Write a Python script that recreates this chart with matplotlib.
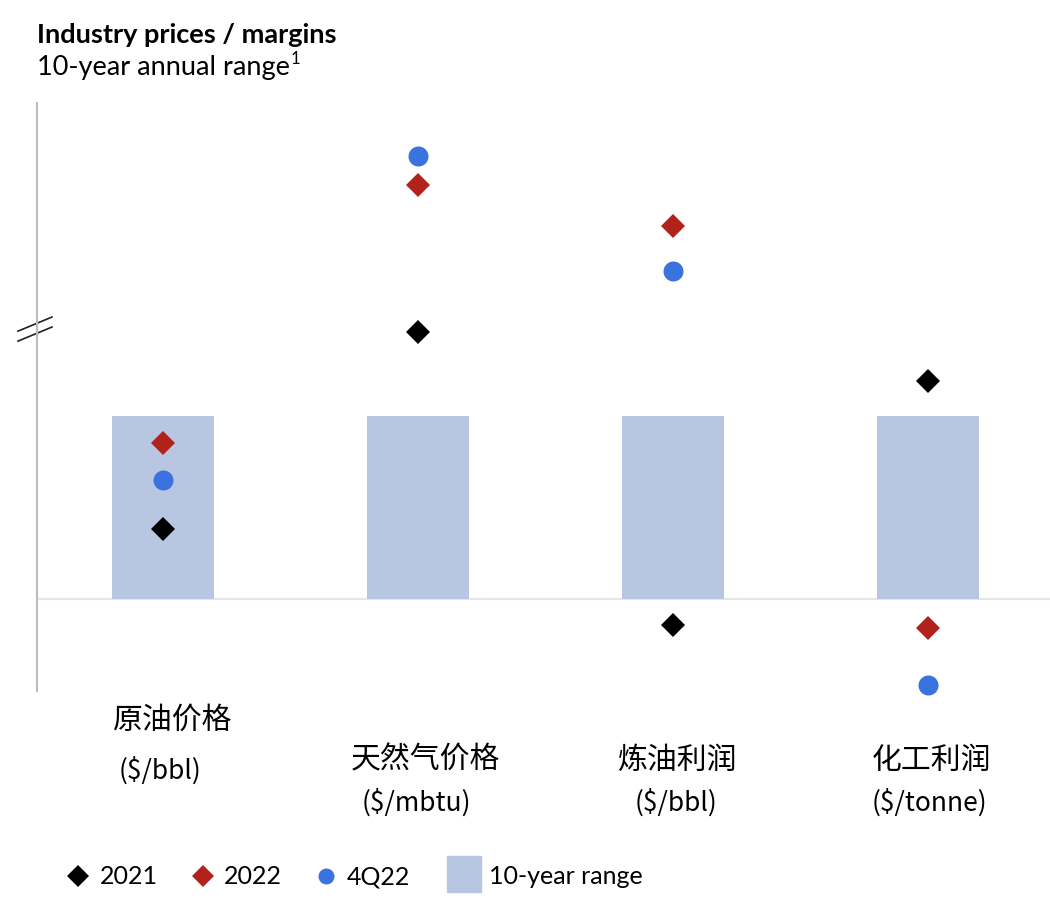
import matplotlib
matplotlib.use("Agg")
import matplotlib.pyplot as plt
from matplotlib.lines import Line2D
from matplotlib.patches import Rectangle
import matplotlib.transforms as mtrans

plt.rcParams['font.family'] = ['Lato', 'Noto Sans CJK SC', 'DejaVu Sans']

# ---- data (normalised: 0 = bottom of 10-year range, 1 = top) ----
categories = ['原油价格', '天然气价格', '炼油利润', '化工利润']
units = ['($/bbl)', '($/mbtu)', '($/bbl)', '($/tonne)']
range_low = [0, 0, 0, 0]
range_high = [1, 1, 1, 1]
val_2021 = [0.38, 1.46, -0.14, 1.19]
val_2022 = [0.85, 2.26, 2.04, -0.16]
val_4q22 = [0.65, 2.42, 1.79, -0.47]
legend_labels = ['2021', '2022', '4Q22', '10-year range']

c_bar = '#b8c6e1'
c_blue = '#3a72e0'
c_red = '#b0221a'
c_black = '#000000'

W, H = 1050, 912
fig = plt.figure(figsize=(W / 100, H / 100), dpi=100)
ax = fig.add_axes([37 / W, (H - 692) / H, (W - 37) / W, (692 - 104) / H])

x = list(range(len(categories)))
ax.bar(x, [h - l for h, l in zip(range_high, range_low)], bottom=range_low,
       width=0.4, color=c_bar, zorder=1)
ax.axhline(0, color='#e6e6e6', lw=1.5, zorder=0.5)
ax.plot(x, val_2021, 'D', color=c_black, ms=12.5, mew=0, zorder=3, clip_on=False)
ax.plot(x, val_2022, 'D', color=c_red, ms=12.5, mew=0, zorder=3, clip_on=False)
ax.plot(x, val_4q22, 'o', color=c_blue, ms=14.4, mew=0, zorder=3, clip_on=False)

ax.set_xlim(-0.494, 3.478)
ax.set_ylim(-0.503, 2.71)
for s in ['top', 'right', 'bottom']:
    ax.spines[s].set_visible(False)
ax.spines['left'].set_color('#bbbbbb')
ax.spines['left'].set_linewidth(1.5)
ax.set_xticks([])
ax.set_yticks([])

# axis break marker
for y0 in (0.612, 0.595):
    ax.add_line(Line2D([-0.0188, 0.0148], [y0, y0 + 0.024],
                       transform=ax.transAxes, color='#222222', lw=1.2,
                       clip_on=False))

# category labels
trans = mtrans.blended_transform_factory(ax.transData, fig.transFigure)
cjk = ['Noto Sans CJK SC', 'DejaVu Sans']
name_y = [720, 760, 760, 760]
unit_y = [771, 803, 803, 803]
name_dx = [0.04, 0.03, 0.02, 0.015]
unit_dx = [-0.01, -0.005, 0.01, 0.005]
for i, (c, u) in enumerate(zip(categories, units)):
    ax.text(i + name_dx[i], 1 - name_y[i] / H, c, transform=trans, ha='center',
            va='center', fontsize=21.5, family=cjk)
    ax.text(i + unit_dx[i], 1 - unit_y[i] / H, u, transform=trans, ha='center',
            va='center', fontsize=19, family=cjk)

# title
fig.text(37 / W, 1 - 35 / H, 'Industry prices / margins', fontsize=19.5,
         fontweight='bold', va='center', ha='left')
fig.text(37 / W, 1 - 67 / H, '10-year annual range', fontsize=19.5,
         va='center', ha='left')
fig.text(291 / W, 1 - 59 / H, '1', fontsize=12, va='center', ha='left')

# legend
ly = 1 - 877 / H
fig.add_artist(Line2D([78 / W], [ly], marker='D', color=c_black, ms=11.5, mew=0,
                      transform=fig.transFigure))
fig.add_artist(Line2D([203 / W], [ly], marker='D', color=c_red, ms=11.5, mew=0,
                      transform=fig.transFigure))
fig.add_artist(Line2D([326 / W], [ly], marker='o', color=c_blue, ms=11.5, mew=0,
                      transform=fig.transFigure))
fig.add_artist(Rectangle((447 / W, 1 - 893 / H), 34 / W, 36 / H, color=c_bar,
                         transform=fig.transFigure))
for xp, lab in zip([100, 224, 347, 489], legend_labels):
    fig.text(xp / W, ly, lab, fontsize=18, va='center', ha='left')

fig.savefig('out.png', dpi=100)
